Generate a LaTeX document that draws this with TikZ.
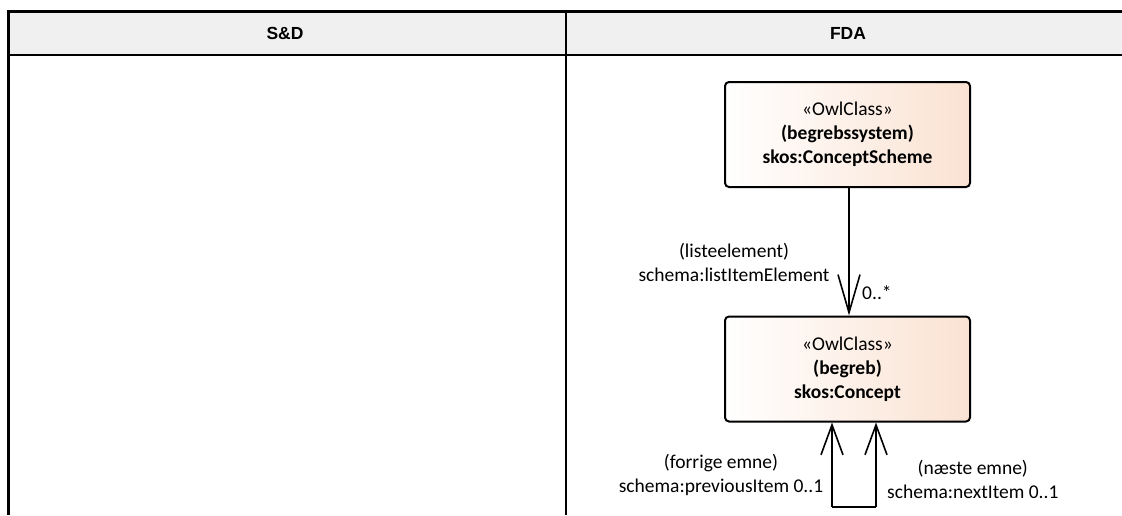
\documentclass[tikz,border=0pt]{standalone}
\usepackage{fontspec}
\setmainfont{Carlito}
\newfontfamily\headfont{Liberation Sans}
\usetikzlibrary{arrows.meta}
\definecolor{headgray}{RGB}{240,240,240}
\definecolor{peach}{RGB}{250,226,210}
\begin{document}
\begin{tikzpicture}[x=1pt, y=-1pt,
                    font=\fontsize{19.5}{24}\selectfont,
                    owlclass/.style={draw, line width=2pt, rounded corners=4pt,
                        left color=white, right color=peach,
                        minimum width=245pt, minimum height=105pt, align=center},
                    lbl/.style={align=center, inner sep=0pt},
                    assoc/.style={line width=1.6pt,
                        -{Straight Barb[length=#1, width=22pt, line width=1.6pt]}},
                    assoc/.default=38pt,
                    headtext/.style={font=\headfont\bfseries\fontsize{17.5}{20}\selectfont},
                ]
                \useasboundingbox (0,0) rectangle (1122,515);
                \fill[headgray] (8,11) rectangle (1122,55);
                \draw[line width=3pt] (8,515) -- (8,11) -- (1122,11);
                \draw[line width=2.5pt] (8,55) -- (1122,55);
                \draw[line width=2pt] (566,11) -- (566,515);
                \node[headtext] (sd) at (285,33) {S\&D};
                \node[headtext] (fda) at (848,33) {FDA};
                \node[owlclass] (scheme) at (847.5,134.5)
                    {«OwlClass»\\ \textbf{(begrebssystem)}\\ \textbf{skos:ConceptScheme}};
                \node[owlclass] (concept) at (847.5,369)
                    {«OwlClass»\\ \textbf{(begreb)}\\ \textbf{skos:Concept}};
                \draw[assoc] (scheme.south -| 849,0) -- (concept.north -| 849,0);
                \node[lbl] (listlbl) at (734,262) {(listeelement)\\ schema:listItemElement};
                \node[lbl, anchor=west] (listmult) at (862,293) {0..*};
                \coordinate (loopl) at (832,507);
                \coordinate (loopr) at (876,507);
                \draw[line width=1.6pt] (loopl) -- (loopr);
                \draw[assoc=30pt] (loopl) -- (concept.south -| loopl);
                \draw[assoc=30pt] (loopr) -- (concept.south -| loopr);
                \node[lbl] (prevlbl) at (721,475) {(forrige emne)\\ schema:previousItem 0..1};
                \node[lbl, anchor=west] (nextlbl) at (887,479) {(næste emne)\\ schema:nextItem 0..1};
                \end{tikzpicture}
\end{document}
